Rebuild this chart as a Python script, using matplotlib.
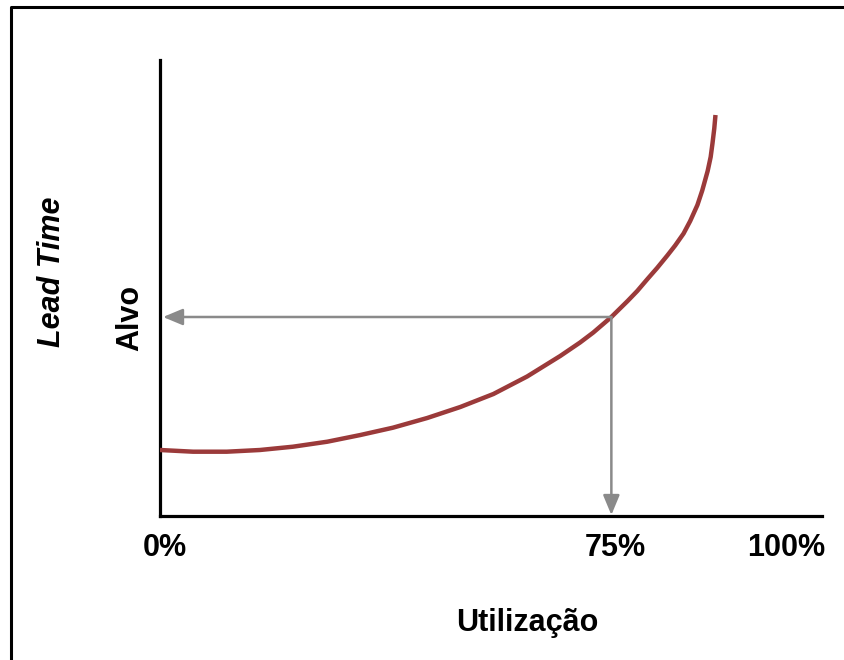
import matplotlib.pyplot as plt
from matplotlib.lines import Line2D

# curva utilizacao x lead time
utilizacao = [0, 5.5, 11.1, 16.6, 22.1, 27.8, 33.3, 38.7, 44.4, 49.9, 55.4, 61.0,
              66.5, 69.8, 72.0, 75.0, 77.7, 79.3, 81.0, 82.6, 84.3, 85.6, 87.0,
              88.1, 89.3, 90.1, 91.0, 91.5, 91.8, 92.1, 92.3]
lead_time = [66, 64.3, 64.3, 66, 69.3, 74.3, 81, 88.3, 98, 109, 122, 139.5,
             160, 173.5, 183.5, 199, 215, 225, 237, 248, 260.5, 270.5, 282.5,
             295, 311, 325.5, 345, 359, 372.5, 387.5, 401]

alvo_util = 75
alvo_lead = 199

tick_labels = ['0%', '75%', '100%']
tick_pos = [0.8, 75.7, 104]

plt.rcParams['font.family'] = ['Liberation Sans', 'DejaVu Sans']

fig = plt.figure(figsize=(8.45, 6.6), dpi=100)
ax = fig.add_axes([160/845, 1 - 516/660, (822 - 160)/845, (516 - 60)/660])
ax.set_xlim(0, 110)
ax.set_ylim(0, 456)

ax.plot(utilizacao, lead_time, color='#9b3a3a', lw=3.2, solid_capstyle='butt',
        solid_joinstyle='round', zorder=3)

seta = dict(arrowstyle='-|>,head_length=0.6,head_width=0.25', color='#8a8a8a',
            lw=1.8, shrinkA=0, shrinkB=0, mutation_scale=20)
ax.annotate('', xy=(0.5, alvo_lead), xytext=(alvo_util, alvo_lead), arrowprops=seta)
ax.annotate('', xy=(alvo_util, 1), xytext=(alvo_util, alvo_lead), arrowprops=seta)

for s in ['top', 'right']:
    ax.spines[s].set_visible(False)
for s in ['left', 'bottom']:
    ax.spines[s].set_linewidth(2.3)
    ax.spines[s].set_color('black')
ax.set_xticks([])
ax.set_yticks([])

for lab, x in zip(tick_labels, tick_pos):
    ax.text(x, -32, lab, ha='center', va='center', fontsize=22, fontweight='bold')

fig.text(527/845, 1 - 623/660, 'Utilização', ha='center', va='center',
         fontsize=22, fontweight='bold')
fig.text(52/845, 1 - 272/660, 'Lead Time', ha='center', va='center', rotation=90,
         fontsize=22, fontweight='bold', fontstyle='italic')
fig.text(130/845, 1 - 318/660, 'Alvo', ha='center', va='center', rotation=90,
         fontsize=22, fontweight='bold')

# moldura (esquerda e topo)
fig.add_artist(Line2D([11.5/845, 11.5/845, 1], [0, 1 - 7.2/660, 1 - 7.2/660],
                      transform=fig.transFigure, color='black', lw=2.2))

plt.savefig('out.png', dpi=100)
